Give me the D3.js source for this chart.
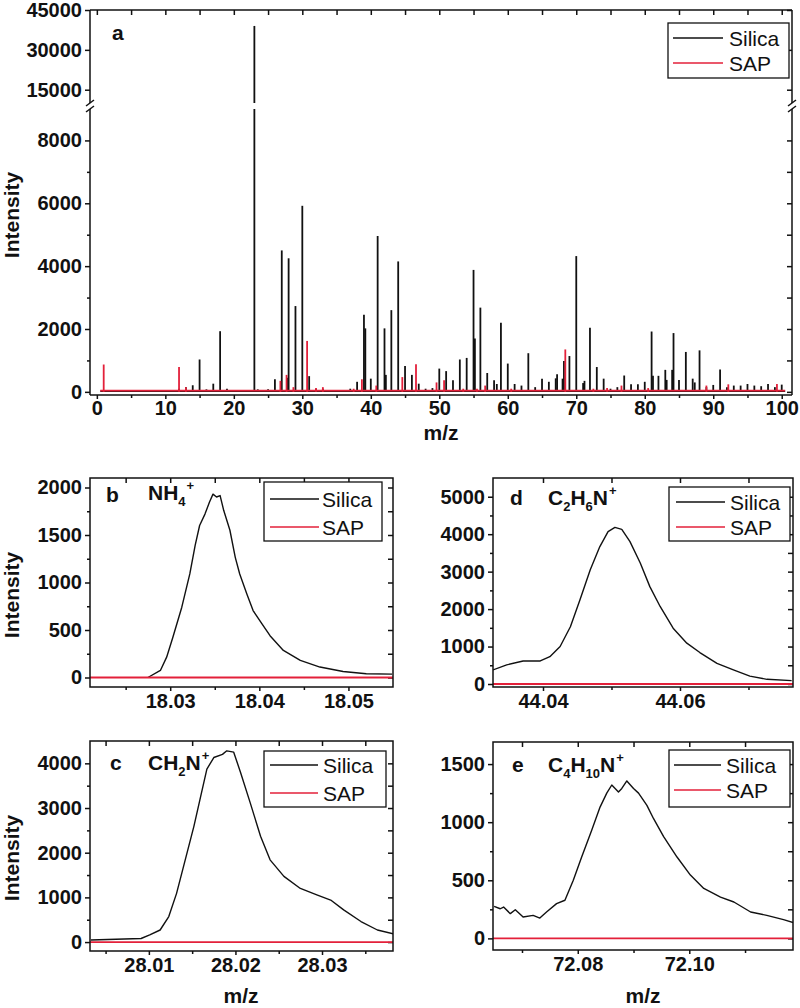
<!DOCTYPE html>
<html><head><meta charset="utf-8">
<script src="https://cdn.jsdelivr.net/npm/d3@7"></script>
<style>body{margin:0;background:#fff}</style>
</head><body>
<svg id="c" width="800" height="1008"></svg>
<script>
// ---------- DATA ----------
// Panel a: stick spectrum
const silicaMz  = [2,12,13,14,15,16,17,18,19,23,23.5,24,25,26,27,27.9,28,29,30,31,32,33,34,35,37,38,39,39.2,40,41,42,42.2,43,44,45,46,47,48,49,50,51,52,53,54,55,55.2,56,57,58,58.4,59,60,61,62,63,64,65,66,67,67.2,68,68.2,69,70,71,71.2,72,73,74,75,76,77,78,79,80,81,81.2,82,83,83.2,84,84.2,85,86,87,87.3,88,89,90,91,92,93,94,95,96,97,98,99,100];
const silicaInt = [60,100,150,210,1030,80,260,1930,100,39000,80,60,80,400,4500,450,4250,2730,5920,500,100,100,60,60,100,320,2450,2020,420,4960,2020,540,2600,4150,820,540,260,100,120,740,660,370,1030,1080,3880,1700,2680,600,370,250,2200,900,250,200,1230,150,420,320,430,560,420,980,1140,4320,280,350,2040,790,420,100,150,520,240,240,320,1920,510,510,700,380,700,1870,380,1270,420,300,1320,150,220,710,150,200,200,250,200,180,250,150,230];
const sapMz  = [1,12,13,26.8,27.7,28.7,30.7,32,33,37.5,38.7,40.8,44.6,46.6,49.6,50.7,53.5,55.5,56.7,60.5,68.4,72.5,74.5,76.6,80.5,89,92.2,99.3];
const sapInt = [870,790,150,350,540,150,1620,120,150,100,400,200,470,880,300,370,100,100,200,100,1350,100,120,200,120,200,240,250];
const xTicksA = [0,10,20,30,40,50,60,70,80,90,100];
const yTicksALow = [0,2000,4000,6000,8000];
const yTicksAHigh = [15000,30000,45000];

// Panel b: NH4+
const bMz = [18.0275,18.0289,18.0296,18.0303,18.0313,18.0322,18.0328,18.0333,18.0339,18.0344,18.0348,18.0352,18.0356,18.0360,18.0367,18.0373,18.0378,18.0386,18.0393,18.0403,18.0412,18.0427,18.0446,18.0468,18.0494,18.0520,18.0549];
const bSilica = [0,74,214,424,740,1090,1390,1600,1720,1845,1930,1900,1915,1760,1550,1265,1090,880,705,565,440,285,180,110,63,40,35];
// Panel c: CH2N+
const cMz = [28.0033,28.0091,28.0101,28.0113,28.0123,28.0132,28.0142,28.0152,28.0159,28.0167,28.0175,28.0185,28.0190,28.0198,28.0206,28.0217,28.0229,28.0240,28.0256,28.0275,28.0294,28.0310,28.0325,28.0345,28.0364,28.0383];
const cSilica = [45,80,160,270,570,1090,1840,2590,3190,3870,4130,4200,4280,4250,3790,3120,2370,1840,1470,1200,1055,940,720,460,270,180];
// Panel d: C2H6N+
const dMz = [44.0327,44.0347,44.0371,44.0396,44.0410,44.0425,44.0440,44.0454,44.0469,44.0483,44.0495,44.0505,44.0515,44.0527,44.0542,44.0556,44.0571,44.0590,44.0610,44.0629,44.0654,44.0678,44.0702,44.0727,44.0763];
const dSilica = [375,510,615,615,730,1000,1530,2250,3050,3670,4070,4180,4130,3800,3230,2600,2070,1490,1090,840,550,375,210,125,90];
// Panel e: C4H10N+
const eMz = [72.0650,72.0661,72.0667,72.0679,72.0688,72.0702,72.0720,72.0732,72.0744,72.0762,72.0777,72.0792,72.0807,72.0825,72.0840,72.0852,72.0861,72.0873,72.0879,72.0888,72.0900,72.0909,72.0924,72.0936,72.0954,72.0978,72.1002,72.1026,72.1056,72.1080,72.1110,72.1139,72.1169,72.1190];
const eSilica = [276,255,270,213,247,184,198,175,227,299,328,500,700,930,1130,1250,1320,1260,1290,1355,1290,1250,1145,1030,875,700,545,430,355,313,227,198,161,130];

const seriesNames = ["Silica","SAP"];

// ---------- STYLE ----------
const FONT = "'Liberation Sans', Arial, Helvetica, sans-serif";
const BLACK = "#111", RED = "#e3203a";
const svg = d3.select("#c");

function styleAxis(sel){
  sel.select(".domain").remove();
  sel.selectAll(".tick line").attr("stroke", BLACK).attr("stroke-width", 1.5);
  sel.selectAll(".tick text").attr("fill", BLACK)
     .style("font-family", FONT).style("font-size","20px").style("font-weight","bold");
}

function legend(x0,y0,w,h,ly1,ly2,lx1,lx2,tx){
  const g = svg.append("g");
  g.append("rect").attr("x",x0).attr("y",y0).attr("width",w).attr("height",h)
    .attr("fill","#fff").attr("stroke",BLACK).attr("stroke-width",1.3);
  [[ly1,BLACK,seriesNames[0]],[ly2,RED,seriesNames[1]]].forEach(([yy,col,name])=>{
    g.append("line").attr("x1",lx1).attr("x2",lx2).attr("y1",yy).attr("y2",yy)
      .attr("stroke",col).attr("stroke-width",1.6);
    g.append("text").attr("x",tx).attr("y",yy+7.5).text(name)
      .style("font-family",FONT).style("font-size","21px").attr("fill",BLACK);
  });
}

function boldText(x,y,t,size){
  return svg.append("text").attr("x",x).attr("y",y).text(t)
    .style("font-family",FONT).style("font-size",(size||21)+"px").style("font-weight","bold").attr("fill",BLACK);
}

function yTitle(cx,cy){
  svg.append("text").attr("transform",`translate(${cx},${cy}) rotate(-90)`)
    .attr("text-anchor","middle").text("Intensity")
    .style("font-family",FONT).style("font-size","21px").style("font-weight","bold").attr("fill",BLACK);
}
function xTitle(cx,y){
  svg.append("text").attr("x",cx).attr("y",y).attr("text-anchor","middle").text("m/z")
    .style("font-family",FONT).style("font-size","21px").style("font-weight","bold").attr("fill",BLACK);
}

// formula: parts = [[text, 'n'|'sub'|'sup']]
function formula(x,y,parts){
  const t = svg.append("text").attr("x",x).attr("y",y)
    .style("font-family",FONT).style("font-weight","bold").attr("fill",BLACK);
  let cur = 0;
  parts.forEach(([s,k])=>{
    let target = k==="sub"?6:(k==="sup"?-10:0);
    const ts = t.append("tspan").text(s).attr("dy", target-cur)
      .style("font-size", k==="n"?"21px":"13px");
    if(k==="sup") ts.attr("dx",1);
    cur = target;
  });
}

// ---------- PANEL A ----------
(function(){
  const L=90,R=792,T=10,B=395, breakHi=103, breakLo=109;
  const x = d3.scaleLinear().domain([-1.0,101.5]).range([L,R]);
  const yLow = d3.scaleLinear().domain([-100,9000]).range([B,breakLo]);
  const yHigh = d3.scaleLinear().domain([10000,45000]).range([breakHi,T]);
  const g = svg.append("g");

  // axes
  g.append("g").attr("transform",`translate(0,${B})`)
    .call(d3.axisBottom(x).tickValues(xTicksA).tickSize(4).tickPadding(2).tickFormat(d3.format("d"))).call(styleAxis);
  const xMinor = d3.range(5,100,10);
  g.append("g").attr("transform",`translate(0,${B})`)
    .call(d3.axisBottom(x).tickValues(xMinor).tickSize(3).tickFormat("")).call(styleAxis);
  g.append("g").attr("transform",`translate(0,${T})`)
    .call(d3.axisBottom(x).tickValues(xTicksA.concat(xMinor)).tickSize(5).tickFormat("")).call(styleAxis);
  g.append("g").attr("transform",`translate(${L},0)`)
    .call(d3.axisLeft(yLow).tickValues(yTicksALow).tickSize(5).tickPadding(3).tickFormat(d3.format("d"))).call(styleAxis);
  g.append("g").attr("transform",`translate(${L},0)`)
    .call(d3.axisLeft(yLow).tickValues([1000,3000,5000,7000]).tickSize(3).tickFormat("")).call(styleAxis);
  g.append("g").attr("transform",`translate(${L},0)`)
    .call(d3.axisLeft(yHigh).tickValues(yTicksAHigh).tickSize(5).tickPadding(3).tickFormat(d3.format("d"))).call(styleAxis);
  g.append("g").attr("transform",`translate(${R},0)`)
    .call(d3.axisLeft(yLow).tickValues(yTicksALow.concat([1000,3000,5000,7000])).tickSize(5).tickFormat("")).call(styleAxis);
  g.append("g").attr("transform",`translate(${R},0)`)
    .call(d3.axisLeft(yHigh).tickValues(yTicksAHigh).tickSize(5).tickFormat("")).call(styleAxis);

  // baselines
  g.append("line").attr("x1",x(0.5)).attr("x2",x(100.5)).attr("y1",yLow(20)).attr("y2",yLow(20))
    .attr("stroke",BLACK).attr("stroke-width",1.5);

  function sticks(mz,vals,col){
    const sg = g.append("g").attr("stroke",col).attr("stroke-width",1.8);
    mz.forEach((m,i)=>{
      const v = vals[i];
      if(v<=9000){
        sg.append("line").attr("x1",x(m)).attr("x2",x(m)).attr("y1",yLow(0)).attr("y2",yLow(v));
      } else {
        sg.append("line").attr("x1",x(m)).attr("x2",x(m)).attr("y1",yLow(0)).attr("y2",yLow(9000));
        sg.append("line").attr("x1",x(m)).attr("x2",x(m)).attr("y1",yHigh(10000)).attr("y2",yHigh(v));
      }
    });
  }
  sticks(silicaMz,silicaInt,BLACK);
  g.append("line").attr("x1",x(0.5)).attr("x2",x(100.5)).attr("y1",yLow(40)).attr("y2",yLow(40))
    .attr("stroke",RED).attr("stroke-width",1.6);
  sticks(sapMz,sapInt,RED);

  // frame with break
  const f = g.append("g").attr("stroke",BLACK).attr("stroke-width",1.5).attr("fill","none");
  f.append("line").attr("x1",L).attr("x2",R).attr("y1",T).attr("y2",T);
  f.append("line").attr("x1",L).attr("x2",R).attr("y1",B).attr("y2",B);
  [L,R].forEach(xx=>{
    f.append("line").attr("x1",xx).attr("x2",xx).attr("y1",T).attr("y2",breakHi);
    f.append("line").attr("x1",xx).attr("x2",xx).attr("y1",breakLo).attr("y2",B);
    f.append("line").attr("x1",xx-4).attr("x2",xx+4).attr("y1",breakHi+3).attr("y2",breakHi-3);
    f.append("line").attr("x1",xx-4).attr("x2",xx+4).attr("y1",breakLo+3).attr("y2",breakLo-3);
  });

  boldText(112,40,"a");
  legend(668,23,121,55,38,63,673,723,729);
  yTitle(19,215);
  xTitle((L+R)/2,440);
})();

// ---------- PROFILE PANELS ----------
function profilePanel(cfg){
  const {L,R,T,B,xDom,yDom,xMajor,xMinor,yMajor,yMinor,xFmt,mz,vals} = cfg;
  const x = d3.scaleLinear().domain(xDom).range([L,R]);
  const y = d3.scaleLinear().domain(yDom).range([B,T]);
  const g = svg.append("g");
  const id = "clip"+Math.round(L)+"_"+Math.round(T);
  svg.append("clipPath").attr("id",id).append("rect").attr("x",L).attr("y",T).attr("width",R-L).attr("height",B-T);

  g.append("g").attr("transform",`translate(0,${B})`)
    .call(d3.axisBottom(x).tickValues(xMajor).tickSize(4).tickPadding(3).tickFormat(d3.format(xFmt))).call(styleAxis);
  g.append("g").attr("transform",`translate(0,${B})`)
    .call(d3.axisBottom(x).tickValues(xMinor).tickSize(3).tickFormat("")).call(styleAxis);
  g.append("g").attr("transform",`translate(0,${T})`)
    .call(d3.axisBottom(x).tickValues(xMajor.concat(xMinor)).tickSize(5).tickFormat("")).call(styleAxis);
  g.append("g").attr("transform",`translate(${L},0)`)
    .call(d3.axisLeft(y).tickValues(yMajor).tickSize(5).tickPadding(3).tickFormat(d3.format("d"))).call(styleAxis);
  g.append("g").attr("transform",`translate(${L},0)`)
    .call(d3.axisLeft(y).tickValues(yMinor).tickSize(3).tickFormat("")).call(styleAxis);
  g.append("g").attr("transform",`translate(${R},0)`)
    .call(d3.axisLeft(y).tickValues(yMajor.concat(yMinor)).tickSize(5).tickFormat("")).call(styleAxis);

  const pg = g.append("g").attr("clip-path",`url(#${id})`);
  const line = d3.line().x((d,i)=>x(mz[i])).y(d=>y(d));
  pg.append("path").datum(vals).attr("d",line).attr("fill","none")
    .attr("stroke",BLACK).attr("stroke-width",1.4).attr("stroke-linejoin","round");
  pg.append("line").attr("x1",L).attr("x2",R).attr("y1",y(0)).attr("y2",y(0))
    .attr("stroke",RED).attr("stroke-width",1.8);

  g.append("rect").attr("x",L).attr("y",T).attr("width",R-L).attr("height",B-T)
    .attr("fill","none").attr("stroke",BLACK).attr("stroke-width",1.5);
}

profilePanel({L:90,R:393,T:478,B:687,xDom:[18.021,18.055],yDom:[-100,2100],
  xMajor:[18.03,18.04,18.05],xMinor:[18.025,18.035,18.045],yMajor:[0,500,1000,1500,2000],yMinor:[250,750,1250,1750],
  xFmt:".2f",mz:bMz,vals:bSilica});
profilePanel({L:493,R:793,T:478,B:687,xDom:[44.0327,44.0765],yDom:[-80,5500],
  xMajor:[44.04,44.06],xMinor:[44.05,44.07],yMajor:[0,1000,2000,3000,4000,5000],yMinor:[500,1500,2500,3500,4500],
  xFmt:".2f",mz:dMz,vals:dSilica});
profilePanel({L:90,R:393,T:741,B:951,xDom:[28.0032,28.0382],yDom:[-200,4500],
  xMajor:[28.01,28.02,28.03],xMinor:[28.005,28.015,28.025,28.035],yMajor:[0,1000,2000,3000,4000],yMinor:[500,1500,2500,3500],
  xFmt:".2f",mz:cMz,vals:cSilica});
profilePanel({L:493,R:793,T:742,B:950,xDom:[72.0648,72.1186],yDom:[-100,1690],
  xMajor:[72.08,72.10],xMinor:[72.07,72.09,72.11],yMajor:[0,500,1000,1500],yMinor:[250,750,1250],
  xFmt:".2f",mz:eMz,vals:eSilica});

// labels
boldText(106,502,"b"); formula(148,500,[["NH","n"],["4","sub"],["+","sup"]]);
boldText(510,505,"d"); formula(548,505,[["C","n"],["2","sub"],["H","n"],["6","sub"],["N","n"],["+","sup"]]);
boldText(110,770,"c"); formula(148,770,[["CH","n"],["2","sub"],["N","n"],["+","sup"]]);
boldText(512,772,"e"); formula(548,772,[["C","n"],["4","sub"],["H","n"],["10","sub"],["N","n"],["+","sup"]]);

legend(264,482,118,59,499,527,270,319,322);
legend(669,487,121,54,502,527,676,725,730);
legend(264,751,122,56,765,793,270,318,323);
legend(669,750,121,57,765,790,674,721,726);

yTitle(19,595);
yTitle(19,858);
xTitle(241,1003);
xTitle(643,1003);
</script>
</body></html>
